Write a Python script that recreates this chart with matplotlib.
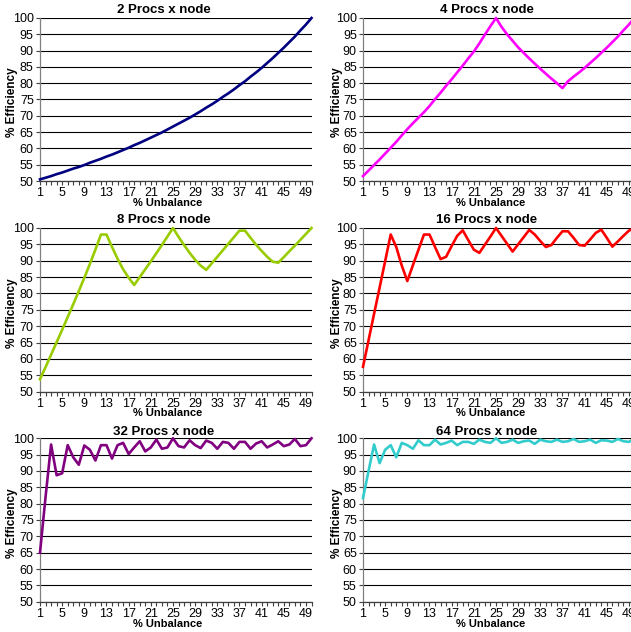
import matplotlib.pyplot as plt

plt.rcParams['font.family'] = ['Liberation Sans', 'DejaVu Sans']

# % unbalance on the x axis
unbalance = list(range(1, 51))

titles = ['2 Procs x node', '4 Procs x node', '8 Procs x node',
          '16 Procs x node', '32 Procs x node', '64 Procs x node']
colors = ['#000080', '#FF00FF', '#99CC00', '#FF0000', '#800080', '#33CCCC']

# % efficiency for each node size
eff_2 = [50.5, 51.0, 51.5, 52.1, 52.6, 53.2, 53.8, 54.3, 54.9, 55.6,
         56.2, 56.8, 57.5, 58.1, 58.8, 59.5, 60.2, 61.0, 61.7, 62.5,
         63.3, 64.1, 64.9, 65.8, 66.7, 67.6, 68.5, 69.4, 70.4, 71.4,
         72.5, 73.5, 74.6, 75.8, 76.9, 78.1, 79.4, 80.6, 82.0, 83.3,
         84.7, 86.2, 87.7, 89.3, 90.9, 92.6, 94.3, 96.2, 98.0, 100.0]
eff_4 = [51.5, 53.2, 54.9, 56.6, 58.4, 60.2, 62.0, 64.0, 65.9, 67.7,
         69.4, 71.1, 73.0, 75.1, 77.1, 79.2, 81.2, 83.3, 85.4, 87.6,
         89.7, 92.2, 94.9, 97.5, 100.0, 97.3, 95.0, 93.0, 91.0, 89.3,
         87.6, 86.0, 84.4, 82.9, 81.4, 80.0, 78.5, 80.6, 82.0, 83.3,
         84.7, 86.2, 87.7, 89.3, 90.9, 92.6, 94.3, 96.2, 98.0, 100.0]
eff_8 = [53.8, 57.5, 61.3, 65.1, 68.9, 72.8, 76.7, 80.7, 84.8, 89.0,
         93.4, 98.0, 98.0, 94.2, 90.6, 87.4, 84.8, 82.6, 85.0, 87.4,
         89.8, 92.3, 94.8, 97.4, 100.0, 97.3, 94.8, 92.4, 90.3, 88.5,
         87.2, 89.2, 91.2, 93.2, 95.2, 97.2, 99.2, 99.2, 97.0, 94.9,
         93.0, 91.2, 89.7, 89.4, 91.1, 92.9, 94.6, 96.4, 98.2, 100.0]
eff_16 = [57.6, 65.7, 73.8, 81.8, 89.9, 98.0, 94.2, 88.5, 83.8, 88.6,
          93.3, 98.0, 98.0, 94.2, 90.5, 91.2, 94.5, 97.6, 99.3, 96.3,
          93.4, 92.4, 94.9, 97.4, 100.0, 97.6, 95.2, 92.8, 95.0, 97.2,
          99.4, 98.0, 96.0, 94.2, 94.8, 97.0, 99.0, 99.0, 97.0, 94.8,
          94.6, 96.5, 98.5, 99.5, 97.0, 94.3, 95.9, 97.6, 99.2, 100.0]
eff_32 = [65.0, 82.0, 98.1, 88.7, 89.3, 97.9, 94.2, 91.9, 97.8, 96.5,
          93.2, 97.9, 97.9, 93.8, 97.9, 98.6, 95.2, 97.2, 99.1, 96.0,
          97.2, 99.6, 96.8, 97.2, 100.0, 97.6, 97.2, 99.4, 97.9, 97.0,
          99.3, 98.6, 96.8, 98.9, 98.6, 96.8, 98.9, 98.9, 96.8, 98.4,
          99.1, 97.2, 98.1, 99.1, 97.6, 98.1, 99.8, 97.6, 97.9, 100.0]
eff_64 = [81.7, 90.0, 98.1, 92.4, 96.5, 97.9, 94.2, 98.6, 97.9, 96.8,
          99.4, 97.9, 97.9, 99.6, 98.1, 98.6, 99.3, 97.9, 98.9, 98.9,
          98.3, 99.6, 98.9, 98.6, 100.0, 98.6, 98.9, 99.6, 98.6, 99.1,
          99.3, 98.3, 99.6, 99.1, 98.9, 99.6, 98.9, 99.1, 99.8, 98.9,
          99.1, 99.6, 98.6, 99.4, 99.3, 98.9, 99.8, 99.1, 98.9, 100.0]
series = [eff_2, eff_4, eff_8, eff_16, eff_32, eff_64]

W, H = 631, 632
fig = plt.figure(figsize=(W / 100, H / 100), dpi=100)

# panel geometry in pixels (right column runs past the figure edge)
col_x = [(40, 311.5), (363, 634.5)]
row_y = [(18, 181), (228, 391.7), (438.3, 601.7)]
title_x = [163.5, 487]
title_y = [10, 220, 432]
xlabel_x = [167.5, 490.5]
xlabel_y = [203, 413.5, 624]
ylabel_x = [12.5, 336.5]

xticks = unbalance
xticklabels = [str(u) if (u - 1) % 4 == 0 else '' for u in unbalance]
yticks = list(range(50, 101, 5))

for i, (vals, title, color) in enumerate(zip(series, titles, colors)):
    row, col = divmod(i, 2)
    x0, x1 = col_x[col]
    yt, yb = row_y[row]
    ax = fig.add_axes([x0 / W, 1 - yb / H, (x1 - x0) / W, (yb - yt) / H])

    ax.plot(unbalance, vals, color=color, lw=1.9, clip_on=False, zorder=3)

    ax.set_xlim(1, 50)
    ax.set_ylim(50, 100)
    ax.set_xticks(xticks)
    ax.set_xticklabels(xticklabels, fontsize=9)
    ax.set_yticks(yticks)
    ax.set_yticklabels([str(v) for v in yticks], fontsize=9)
    ax.tick_params(axis='x', length=3, width=0.8, pad=1.5, color='#404040')
    ax.tick_params(axis='y', length=3, width=0.8, pad=1.5, color='#404040')

    ax.yaxis.grid(True, color='black', lw=0.8)
    ax.set_axisbelow(True)
    for side in ('top', 'right'):
        ax.spines[side].set_visible(False)
    ax.spines['left'].set_color('#808080')
    ax.spines['bottom'].set_color('#404040')
    ax.spines['left'].set_linewidth(0.9)
    ax.spines['bottom'].set_linewidth(0.9)

    fig.text(title_x[col] / W, 1 - title_y[row] / H, title,
             ha='center', va='center', fontsize=9.5, fontweight='bold')
    fig.text(xlabel_x[col] / W, 1 - xlabel_y[row] / H, '% Unbalance',
             ha='center', va='center', fontsize=8, fontweight='bold')
    fig.text(ylabel_x[col] / W, 1 - ((yt + yb) / 2 + 3) / H, '% Efficiency',
             ha='center', va='center', rotation=90, fontsize=8.5, fontweight='bold')

fig.savefig('out.png', dpi=100)
